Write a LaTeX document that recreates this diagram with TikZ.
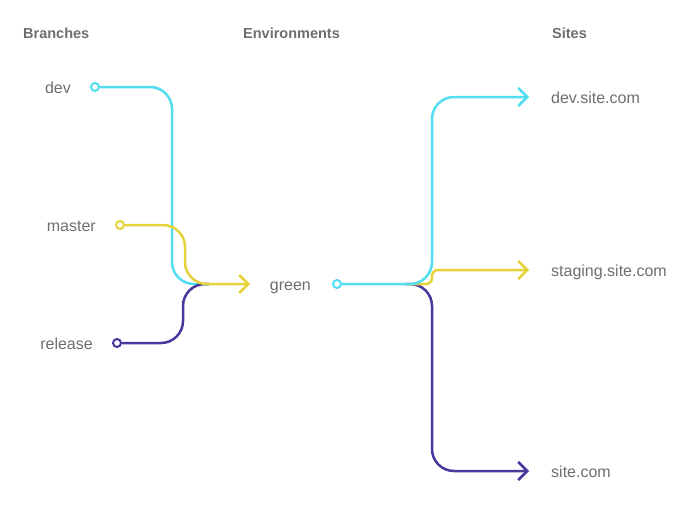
\documentclass[tikz,border=0pt]{standalone}
\usepackage{fontspec}
\setmainfont{Liberation Sans}
\usetikzlibrary{arrows.meta,positioning}

\definecolor{devcyan}{HTML}{52DDF0}
\definecolor{mastergold}{HTML}{E6D23A}
\definecolor{releasepurple}{HTML}{47389C}
\definecolor{labelgray}{HTML}{6E6E6E}

\tikzset{
  pipe/.style={line width=2.5pt, rounded corners=22pt},
  tip/.style={-{Straight Barb[length=9pt,width=18pt]}},
  dot/.style={circle, draw=#1, fill=white, line width=2pt, minimum size=8pt, inner sep=0pt},
  lbl/.style={text=labelgray, font=\fontsize{16}{19}\selectfont, inner sep=0pt, text height=11pt, text depth=3pt, yshift=-2.5pt},
  head/.style={text=labelgray, font=\bfseries\fontsize{14.5}{17}\selectfont, inner sep=0pt, anchor=base west},
}

\begin{document}
\begin{tikzpicture}[x=1pt, y=-1pt]
        \useasboundingbox (0,0) rectangle (696,519);
        \coordinate (join) at (209,284);
        \coordinate (split) at (405,284);
        \coordinate (greenin) at (250,284);
        \coordinate (devsite) at (529,97);
        \coordinate (stagesite) at (529,270);
        \coordinate (prodsite) at (529,471);

        % Headers.
        \node[head] (hbranch) at (23,38.5) {Branches};
        \node[head] (henv) at (243,38.5) {Environments};
        \node[head] (hsite) at (552,38.5) {Sites};

        % Branches.
        \node[dot=devcyan] (devdot) at (95,87) {};
        \node[lbl, left=19pt of devdot] (dev) {dev};
        \node[dot=mastergold] (masterdot) at (120,225) {};
        \node[lbl, left=19pt of masterdot] (master) {master};
        \node[dot=releasepurple] (releasedot) at (117,343) {};
        \node[lbl, left=19pt of releasedot] (release) {release};

        %merge into green
        \draw[pipe, devcyan] (devdot) -- (172,87) -- (172,284) -- (join);
        \draw[pipe, releasepurple] (releasedot) -- (183,343) -- (183,284) -- (join);
        \draw[pipe, mastergold, tip] (masterdot) -- (185,225) -- (185,284) -- (greenin);

        % Environment.
        \node[dot=devcyan] (greendot) at (337,284) {};
        \node[lbl, left=21pt of greendot] (green) {green};

        %split to sites
        \draw[pipe, releasepurple, tip] (split) -- (432,284) -- (432,471) -- (prodsite);
        \draw[pipe, mastergold, tip, rounded corners=6pt] (split) -- (432,284) -- (432,270) -- (stagesite);
        \draw[pipe, devcyan, tip] (greendot) -- (432,284) -- (432,97) -- (devsite);

        % Sites.
        \node[lbl, right=22pt of devsite] (devurl) {dev.site.com};
        \node[lbl, right=22pt of stagesite] (stageurl) {staging.site.com};
        \node[lbl, right=22pt of prodsite] (produrl) {site.com};
\end{tikzpicture}
\end{document}
